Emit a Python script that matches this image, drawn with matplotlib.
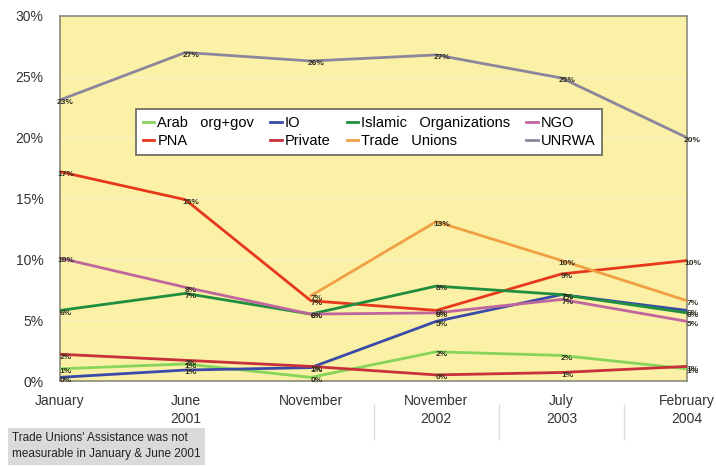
import matplotlib
matplotlib.use("Agg")
import matplotlib.pyplot as plt
import numpy as np

plt.rcParams['font.family'] = ['Liberation Sans', 'DejaVu Sans']

categories = ["January", "June\n2001", "November", "November\n2002", "July\n2003", "February\n2004"]

arab = [1.0, 1.4, 0.3, 2.4, 2.1, 1.0]
io = [0.3, 0.9, 1.1, 4.9, 7.1, 5.8]
islamic = [5.8, 7.2, 5.5, 7.8, 7.1, 5.6]
ngo = [10.1, 7.7, 5.5, 5.6, 6.7, 4.9]
pna = [17.2, 14.9, 6.6, 5.8, 8.8, 9.9]
private = [2.2, 1.7, 1.2, 0.5, 0.7, 1.2]
trade = [np.nan, np.nan, 7.0, 13.1, 9.9, 6.6]
unrwa = [23.1, 27.0, 26.3, 26.8, 24.9, 20.0]

series = [
    ("Arab   org+gov", arab, "#86D45A"),
    ("PNA", pna, "#E8381C"),
    ("IO", io, "#3A4AA8"),
    ("Private", private, "#C8303A"),
    ("Islamic   Organizations", islamic, "#1F8E3E"),
    ("Trade   Unions", trade, "#F0A044"),
    ("NGO", ngo, "#C0669E"),
    ("UNRWA", unrwa, "#8C869C"),
]

fig = plt.figure(figsize=(7.16, 4.66), dpi=100)
ax = fig.add_axes([0.0838, 0.1824, 0.8757, 0.7833])
ax.set_facecolor("#FAF0A6")
x = np.arange(len(categories))

for yv in [5, 10, 15, 20, 25]:
    ax.axhline(yv, color="#FBF3C4", lw=1.0, zorder=1)

for name, vals, col in series:
    ax.plot(x, vals, color=col, lw=2.0, label=name, zorder=3)
    for xi, v in zip(x, vals):
        if np.isnan(v):
            continue
        ax.annotate(f"{int(round(v))}%", (xi, v), xytext=(4, -2), textcoords="offset points",
                    ha="center", va="center", fontsize=6, fontweight="bold",
                    color="#2E2E20", zorder=4)

ax.set_xlim(0, 5)
ax.set_ylim(0, 30)
ax.set_yticks([0, 5, 10, 15, 20, 25, 30])
ax.set_yticklabels([f"{v}%" for v in [0, 5, 10, 15, 20, 25, 30]], fontsize=10, color="#333333")
ax.set_xticks(x)
ax.set_xticklabels(categories, fontsize=10, color="#333333", linespacing=1.45)
ax.tick_params(axis="y", length=0, pad=12)
ax.tick_params(axis="x", length=0, pad=9)
for s in ax.spines.values():
    s.set_color("#8A8A7A")
    s.set_linewidth(1.2)

# faint separators beneath the axis
for sx in [2.5, 3.5, 4.5]:
    ax.plot([sx, sx], [-0.065, -0.16], color="#DDDDDD", lw=1.0,
            transform=ax.get_xaxis_transform(), clip_on=False)

handles, labels = ax.get_legend_handles_labels()
leg = ax.legend(handles, labels, ncol=4, loc="upper left", bbox_to_anchor=(0.11, 0.765),
                fontsize=10.5, frameon=True, fancybox=False, handlelength=0.8,
                handletextpad=0.2, columnspacing=1.1, borderpad=0.45, labelspacing=0.3)
leg.get_frame().set_edgecolor("#666655")
leg.get_frame().set_linewidth(1.2)
leg.get_frame().set_facecolor("white")
leg.get_frame().set_alpha(1)

fig.text(0.017, 0.012, "Trade Unions' Assistance was not\nmeasurable in January & June 2001",
         fontsize=8.5, color="#222222", va="bottom", ha="left", linespacing=1.45,
         bbox=dict(boxstyle="square,pad=0.35", facecolor="#DADADA", edgecolor="none"))

fig.savefig("out.png", dpi=100)
